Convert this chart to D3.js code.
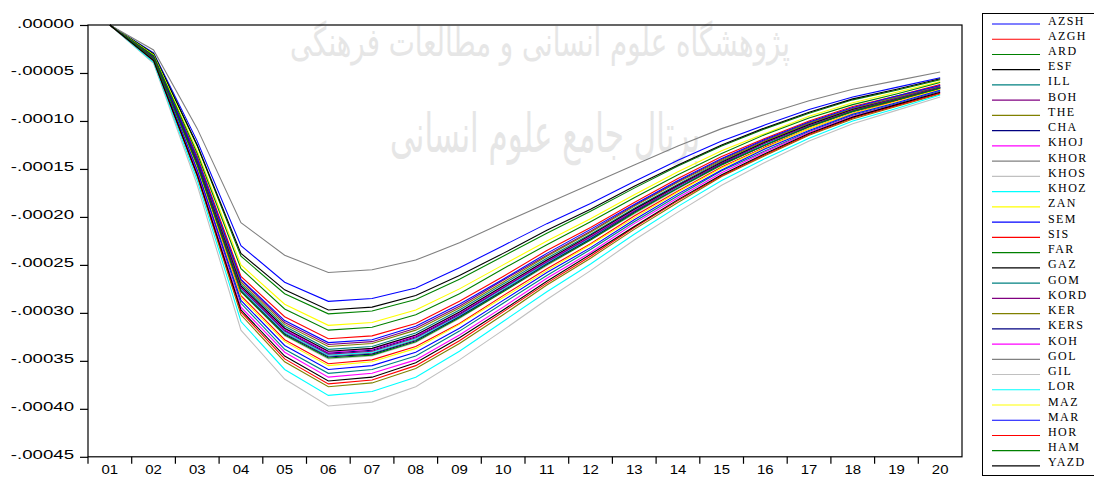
<!DOCTYPE html>
<html>
<head>
<meta charset="utf-8">
<script src="https://cdn.jsdelivr.net/npm/d3@7"></script>
<style>
  body { margin: 0; background: #fff; }
  svg { display: block; }
</style>
</head>
<body>
<div id="chart"></div>
<script>
// periods on the x axis
const periods = ['01','02','03','04','05','06','07','08','09','10','11','12','13','14','15','16','17','18','19','20']

// responses, in units of 1e-5
const AZSH = [0,-2.9,-12.1,-23.0,-26.8,-28.8,-28.5,-27.4,-25.3,-23.0,-20.7,-18.6,-16.3,-14.1,-12.1,-10.4,-8.8,-7.5,-6.5,-5.5]
const AZGH = [0,-3.3,-13.7,-26.2,-30.4,-32.7,-32.4,-31.1,-28.8,-26.2,-23.5,-21.1,-18.5,-16.0,-13.7,-11.8,-10.0,-8.5,-7.4,-6.2]
const ARD  = [0,-3.0,-12.6,-24.1,-28.0,-30.1,-29.8,-28.6,-26.5,-24.1,-21.7,-19.4,-17.0,-14.7,-12.6,-10.8,-9.2,-7.8,-6.8,-5.7]
const ESF  = [0,-3.0,-12.5,-23.8,-27.6,-29.7,-29.4,-28.2,-26.1,-23.8,-21.4,-19.2,-16.8,-14.6,-12.5,-10.7,-9.1,-7.7,-6.7,-5.6]
const ILL  = [0,-3.4,-14.2,-27.0,-31.4,-33.8,-33.5,-32.1,-29.7,-27.0,-24.3,-21.8,-19.1,-16.6,-14.2,-12.2,-10.3,-8.8,-7.6,-6.4]
const BOH  = [0,-3.3,-14.0,-26.6,-31.0,-33.3,-33.0,-31.6,-29.3,-26.6,-24.0,-21.5,-18.8,-16.3,-14.0,-12.0,-10.2,-8.7,-7.5,-6.3]
const THE  = [0,-3.4,-14.1,-26.8,-31.2,-33.5,-33.2,-31.8,-29.5,-26.8,-24.1,-21.6,-18.9,-16.4,-14.1,-12.1,-10.2,-8.7,-7.5,-6.4]
const CHA  = [0,-3.4,-14.4,-27.4,-31.8,-34.2,-33.9,-32.5,-30.1,-27.4,-24.6,-22.1,-19.3,-16.8,-14.4,-12.3,-10.4,-8.9,-7.7,-6.5]
const KHOJ = [0,-3.4,-14.3,-27.3,-31.7,-34.1,-33.8,-32.4,-30.0,-27.3,-24.6,-22.0,-19.3,-16.7,-14.3,-12.3,-10.4,-8.9,-7.7,-6.5]
const KHOR = [0,-3.5,-14.5,-27.6,-32.1,-34.5,-34.2,-32.8,-30.4,-27.6,-24.8,-22.3,-19.5,-16.9,-14.5,-12.4,-10.5,-9.0,-7.8,-6.6]
const KHOS = [0,-3.5,-14.6,-27.8,-32.4,-34.8,-34.5,-33.1,-30.6,-27.8,-25.1,-22.4,-19.7,-17.1,-14.6,-12.5,-10.6,-9.0,-7.8,-6.6]
const KHOZ = [0,-3.4,-14.4,-27.5,-32.0,-34.4,-34.1,-32.7,-30.3,-27.5,-24.8,-22.2,-19.4,-16.9,-14.4,-12.4,-10.5,-8.9,-7.7,-6.5]
const ZAN  = [0,-3.1,-13.1,-25.0,-29.1,-31.3,-31.0,-29.7,-27.5,-25.0,-22.5,-20.2,-17.7,-15.3,-13.1,-11.3,-9.5,-8.1,-7.0,-5.9]
const SEM  = [0,-3.3,-13.9,-26.5,-30.8,-33.1,-32.8,-31.4,-29.1,-26.5,-23.8,-21.3,-18.7,-16.2,-13.9,-11.9,-10.1,-8.6,-7.4,-6.3]
const SIS  = [0,-3.5,-14.8,-28.2,-32.8,-35.3,-34.9,-33.5,-31.1,-28.2,-25.4,-22.8,-19.9,-17.3,-14.8,-12.7,-10.8,-9.2,-7.9,-6.7]
const FAR  = [0,-3.2,-13.4,-25.4,-29.6,-31.8,-31.5,-30.2,-28.0,-25.4,-22.9,-20.5,-18.0,-15.6,-13.4,-11.4,-9.7,-8.3,-7.2,-6.0]
const GAZ  = [0,-3.4,-14.3,-27.2,-31.6,-34.0,-33.7,-32.3,-29.9,-27.2,-24.5,-21.9,-19.2,-16.7,-14.3,-12.2,-10.4,-8.8,-7.7,-6.5]
const GOM  = [0,-3.6,-15.2,-29.0,-33.8,-36.3,-35.9,-34.5,-31.9,-29.0,-26.1,-23.4,-20.5,-17.8,-15.2,-13.1,-11.1,-9.4,-8.2,-6.9]
const KORD = [0,-3.4,-14.4,-27.4,-31.9,-34.3,-34.0,-32.6,-30.2,-27.4,-24.7,-22.1,-19.4,-16.8,-14.4,-12.3,-10.5,-8.9,-7.7,-6.5]
const KER  = [0,-3.8,-15.8,-30.2,-35.1,-37.7,-37.3,-35.8,-33.2,-30.2,-27.1,-24.3,-21.3,-18.5,-15.8,-13.6,-11.5,-9.8,-8.5,-7.2]
const KERS = [0,-3.5,-14.5,-27.7,-32.2,-34.6,-34.3,-32.9,-30.4,-27.7,-24.9,-22.3,-19.5,-17.0,-14.5,-12.5,-10.6,-9.0,-7.8,-6.6]
const KOH  = [0,-3.7,-15.4,-29.4,-34.1,-36.7,-36.3,-34.9,-32.3,-29.4,-26.4,-23.7,-20.7,-18.0,-15.4,-13.2,-11.2,-9.5,-8.3,-7.0]
const GOL  = [0,-2.6,-10.8,-20.6,-24.0,-25.8,-25.5,-24.5,-22.7,-20.6,-18.6,-16.6,-14.6,-12.6,-10.8,-9.3,-7.9,-6.7,-5.8,-4.9]
const GIL  = [0,-4.0,-16.7,-31.8,-36.9,-39.7,-39.3,-37.7,-34.9,-31.8,-28.6,-25.6,-22.4,-19.5,-16.7,-14.3,-12.1,-10.3,-8.9,-7.5]
const LOR  = [0,-3.9,-16.2,-30.9,-35.9,-38.6,-38.2,-36.7,-34.0,-30.9,-27.8,-24.9,-21.8,-18.9,-16.2,-13.9,-11.8,-10.0,-8.7,-7.3]
const MAZ  = [0,-3.6,-14.9,-28.4,-33.0,-35.5,-35.1,-33.7,-31.2,-28.4,-25.6,-22.9,-20.1,-17.4,-14.9,-12.8,-10.8,-9.2,-8.0,-6.7]
const MAR  = [0,-3.6,-15.1,-28.7,-33.4,-35.9,-35.5,-34.1,-31.6,-28.7,-25.8,-23.2,-20.3,-17.6,-15.1,-12.9,-11.0,-9.3,-8.1,-6.8]
const HOR  = [0,-3.7,-15.7,-29.9,-34.8,-37.4,-37.0,-35.5,-32.9,-29.9,-26.9,-24.1,-21.1,-18.3,-15.7,-13.5,-11.4,-9.7,-8.4,-7.1]
const HAM  = [0,-3.5,-14.6,-27.8,-32.3,-34.7,-34.4,-33.0,-30.5,-27.8,-25.0,-22.4,-19.6,-17.0,-14.6,-12.5,-10.6,-9.0,-7.8,-6.6]
const YAZD = [0,-3.7,-15.6,-29.7,-34.5,-37.1,-36.7,-35.2,-32.6,-29.7,-26.7,-23.9,-21.0,-18.2,-15.6,-13.4,-11.3,-9.6,-8.3,-7.0]

const yTicks = [0,-5,-10,-15,-20,-25,-30,-35,-40,-45]

const series = [
  ['AZSH', AZSH, '#0000ff'], ['AZGH', AZGH, '#ff0000'], ['ARD', ARD, '#008000'],
  ['ESF', ESF, '#000000'], ['ILL', ILL, '#008080'], ['BOH', BOH, '#800080'],
  ['THE', THE, '#808000'], ['CHA', CHA, '#000080'], ['KHOJ', KHOJ, '#ff00ff'],
  ['KHOR', KHOR, '#808080'], ['KHOS', KHOS, '#c0c0c0'], ['KHOZ', KHOZ, '#00ffff'],
  ['ZAN', ZAN, '#ffff00'], ['SEM', SEM, '#0000ff'], ['SIS', SIS, '#ff0000'],
  ['FAR', FAR, '#008000'], ['GAZ', GAZ, '#000000'], ['GOM', GOM, '#008080'],
  ['KORD', KORD, '#800080'], ['KER', KER, '#808000'], ['KERS', KERS, '#000080'],
  ['KOH', KOH, '#ff00ff'], ['GOL', GOL, '#808080'], ['GIL', GIL, '#c0c0c0'],
  ['LOR', LOR, '#00ffff'], ['MAZ', MAZ, '#ffff00'], ['MAR', MAR, '#0000ff'],
  ['HOR', HOR, '#ff0000'], ['HAM', HAM, '#008000'], ['YAZD', YAZD, '#000000']
]

const width = 1094
const height = 477
const plot = { left: 88, right: 962, top: 25, bottom: 456.8 }

const svg = d3.select('#chart').append('svg')
  .attr('width', width)
  .attr('height', height)

// faint watermark behind the plot
const wm = svg.append('g')
  .attr('fill', '#e6e6e6')
  .attr('font-family', 'DejaVu Sans, sans-serif')
  .attr('text-anchor', 'middle')
wm.append('text')
  .attr('x', 540).attr('y', 56)
  .attr('font-size', 40)
  .attr('textLength', 500).attr('lengthAdjust', 'spacingAndGlyphs')
  .attr('direction', 'rtl')
  .text('پژوهشگاه علوم انسانی و مطالعات فرهنگی')
wm.append('text')
  .attr('x', 545).attr('y', 152)
  .attr('font-size', 54)
  .attr('textLength', 310).attr('lengthAdjust', 'spacingAndGlyphs')
  .attr('direction', 'rtl')
  .text('پرتال جامع علوم انسانی')

const x = d3.scaleBand()
  .domain(periods)
  .range([plot.left, plot.right])

const y = d3.scaleLinear()
  .domain([-45, 0])
  .range([plot.bottom, plot.top])

// EViews style labels: ".00000", "-.00005"
const fmt = v => d3.format('.5f')(v * 1e-5).replace('\u2212', '-').replace(/^(-?)0\./, '$1.')

const line = d3.line()
  .x((d, i) => x(periods[i]) + x.bandwidth() / 2)
  .y(d => y(d))

svg.append('g')
  .selectAll('path')
  .data(series)
  .join('path')
  .attr('d', d => line(d[1]))
  .attr('fill', 'none')
  .attr('stroke', d => d[2])
  .attr('stroke-width', 1.1)

// frame
svg.append('rect')
  .attr('x', plot.left).attr('y', plot.top)
  .attr('width', plot.right - plot.left)
  .attr('height', plot.bottom - plot.top)
  .attr('fill', 'none')
  .attr('stroke', '#000')
  .attr('stroke-width', 1.2)

// y axis
const yAxis = svg.append('g')
  .attr('transform', 'translate(' + plot.left + ',0)')
  .call(d3.axisLeft(y).tickValues(yTicks).tickSize(8).tickFormat(''))
yAxis.select('.domain').remove()
yAxis.selectAll('line').attr('stroke', '#000').attr('stroke-width', 1.2)

svg.append('g')
  .selectAll('text')
  .data(yTicks)
  .join('text')
  .attr('transform', d => 'translate(74,' + (y(d) + 2.5) + ') scale(1.38,1)')
  .attr('text-anchor', 'end')
  .attr('font-family', 'Liberation Sans, Arial, sans-serif')
  .attr('font-size', 13.5)
  .attr('fill', '#000')
  .text(fmt)

// x axis: ticks at band edges, labels centred in the bands
const xEdges = periods.map(p => x(p))
svg.append('g')
  .selectAll('line')
  .data(xEdges)
  .join('line')
  .attr('x1', d => d).attr('x2', d => d)
  .attr('y1', plot.bottom).attr('y2', plot.bottom + 7)
  .attr('stroke', '#000')
  .attr('stroke-width', 1.2)

svg.append('g')
  .selectAll('text')
  .data(periods)
  .join('text')
  .attr('transform', d => 'translate(' + (x(d) + x.bandwidth() / 2) + ',474) scale(1.15,1)')
  .attr('text-anchor', 'middle')
  .attr('font-family', 'Liberation Sans, Arial, sans-serif')
  .attr('font-size', 13)
  .attr('fill', '#000')
  .text(d => d)

// legend
const legend = svg.append('g')
legend.append('rect')
  .attr('x', 982.5).attr('y', 13.5)
  .attr('width', 130).attr('height', 462)
  .attr('fill', '#fff')
  .attr('stroke', '#000')
  .attr('stroke-width', 1)

const rowY = i => 24 + i * 15.24
const rows = legend.selectAll('g.row')
  .data(series)
  .join('g')
  .attr('class', 'row')
  .attr('transform', (d, i) => 'translate(0,' + rowY(i) + ')')
rows.append('line')
  .attr('x1', 992).attr('x2', 1040)
  .attr('y1', 0).attr('y2', 0)
  .attr('stroke', d => d[2])
  .attr('stroke-width', 1.2)
rows.append('text')
  .attr('x', 1048).attr('y', 0.5)
  .attr('font-family', 'Liberation Serif, Times New Roman, serif')
  .attr('font-size', 12)
  .attr('letter-spacing', 1.4)
  .attr('fill', '#000')
  .text(d => d[0])
</script>
</body>
</html>
